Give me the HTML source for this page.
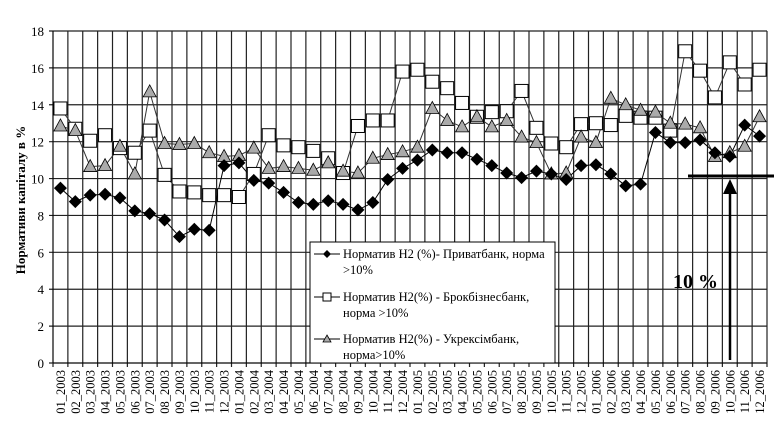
<!DOCTYPE html>
<html><head><meta charset="utf-8"><style>
html,body{margin:0;padding:0;background:#fff;}
svg{display:block;font-family:"Liberation Serif","DejaVu Serif",serif;}
</style></head><body>
<svg id="c" width="779" height="438" viewBox="0 0 779 438" xmlns="http://www.w3.org/2000/svg"></svg>
<script>
const P=[9.48,8.75,9.1,9.15,8.95,8.25,8.1,7.75,6.85,7.25,7.2,10.7,10.85,9.9,9.75,9.25,8.7,8.6,8.8,8.6,8.3,8.7,9.95,10.55,11.0,11.55,11.4,11.4,11.05,10.7,10.3,10.05,10.4,10.25,9.95,10.7,10.75,10.25,9.6,9.7,12.5,11.95,11.95,12.1,11.4,11.2,12.9,12.3];
const B=[13.8,12.7,12.05,12.35,11.65,11.4,12.6,10.2,9.3,9.25,9.1,9.1,9.0,10.25,12.35,11.8,11.7,11.5,11.1,10.3,12.85,13.15,13.15,15.8,15.9,15.25,14.9,14.1,13.35,13.6,13.65,14.75,12.75,11.9,11.7,12.95,13.0,12.9,13.4,13.3,13.3,12.6,16.9,15.85,14.4,16.3,15.1,15.9];
const U=[12.85,12.6,10.65,10.7,11.75,10.25,14.7,11.9,11.85,11.9,11.4,11.2,11.25,11.65,10.55,10.65,10.55,10.45,10.85,10.4,10.3,11.1,11.3,11.45,11.7,13.8,13.15,12.8,13.35,12.8,13.15,12.25,11.95,10.25,10.3,12.25,11.95,14.35,14.0,13.7,13.6,13.0,12.95,12.75,11.2,11.4,11.75,13.35];
const L=53,R=767,T=31,Bt=363,n=48,w=(R-L)/n;
const X=i=>L+w*(i+0.5),Y=v=>Bt-(v/18)*(Bt-T);
let s='';
for(let k=0;k<=9;k++){const y=Y(k*2);s+=`<line x1="${L-4}" y1="${y}" x2="${R}" y2="${y}" stroke="#222" stroke-width="1.2"/>`;
s+=`<text x="${L-9}" y="${y+5}" font-size="13" text-anchor="end">${k*2}</text>`;}
for(let i=0;i<=n;i++){const x=L+w*i;s+=`<line x1="${x}" y1="${T}" x2="${x}" y2="${Bt+4}" stroke="#222" stroke-width="1.2"/>`;}
s+=`<line x1="${L}" y1="${T}" x2="${L}" y2="${Bt}" stroke="#000"/>`;
s+=`<line x1="${L}" y1="${Bt}" x2="${R}" y2="${Bt}" stroke="#000"/>`;
for(let i=0;i<n;i++){const m=String(i%12+1).padStart(2,'0'),yr=2003+Math.floor(i/12);const x=X(i)+4.5;
s+=`<text transform="translate(${x},370) rotate(-90)" font-size="12.5" text-anchor="end">${m}_${yr}</text>`;}
function line(d,c){return `<polyline fill="none" stroke="${c}" stroke-width="1" points="${d.map((v,i)=>X(i)+','+Y(v)).join(' ')}"/>`;}
s+=line(B,'#333')+line(U,'#333')+line(P,'#000');
B.forEach((v,i)=>{s+=`<rect x="${X(i)-6.5}" y="${Y(v)-6.5}" width="13" height="13" fill="#fff" stroke="#000"/>`;});
U.forEach((v,i)=>{const x=X(i),y=Y(v);s+=`<polygon points="${x},${y-7} ${x+6.5},${y+5} ${x-6.5},${y+5}" fill="#aaa" stroke="#000" stroke-width="0.8"/>`;});
P.forEach((v,i)=>{const x=X(i),y=Y(v);s+=`<polygon points="${x},${y-6.5} ${x+6.5},${y} ${x},${y+6.5} ${x-6.5},${y}" fill="#000"/>`;});
s+=`<rect x="310" y="242" width="245" height="121" fill="#fff" stroke="#000"/>`;
const ly=[254,297,339],lab=[["Норматив Н2 (%)- Приватбанк, норма",">10%"],["Норматив Н2(%) - Брокбізнесбанк,","норма >10%"],["Норматив Н2(%) - Укрексімбанк,","норма>10%"]];
ly.forEach((y,k)=>{s+=`<line x1="314" y1="${y}" x2="340" y2="${y}" stroke="#000"/>`;
if(k==0)s+=`<polygon points="327,${y-4} 331,${y} 327,${y+4} 323,${y}" fill="#000"/>`;
if(k==1)s+=`<rect x="323" y="${y-4}" width="8" height="8" fill="#fff" stroke="#000"/>`;
if(k==2)s+=`<polygon points="327,${y-4} 331,${y+3} 323,${y+3}" fill="#aaa" stroke="#000" stroke-width="0.8"/>`;
s+=`<text x="343" y="${y+4}" font-size="12.5">${lab[k][0]}</text><text x="343" y="${y+20}" font-size="12.5">${lab[k][1]}</text>`;});
s+=`<line x1="688" y1="176" x2="774" y2="176" stroke="#000" stroke-width="3"/>`;
s+=`<line x1="730" y1="360" x2="730" y2="190" stroke="#000" stroke-width="2.5"/>`;
s+=`<polygon points="730,179 737,194 723,194" fill="#000"/>`;
s+=`<text x="673" y="288" font-size="20" font-weight="bold">10 %</text>`;
s+=`<text transform="translate(25,200) rotate(-90)" font-size="13" font-weight="bold" text-anchor="middle">Нормативи капіталу в %</text>`;
document.getElementById('c').innerHTML=s;
</script>
</body></html>
